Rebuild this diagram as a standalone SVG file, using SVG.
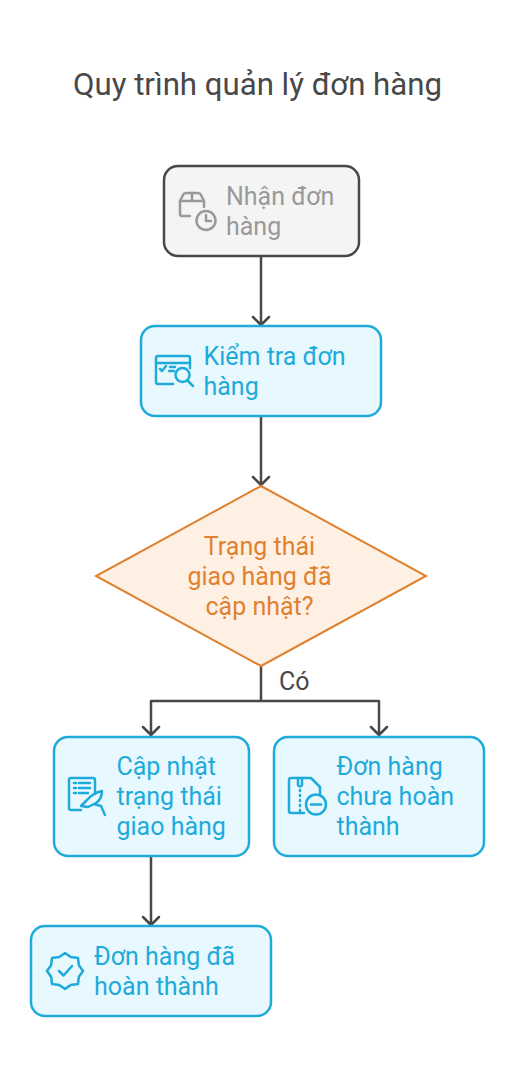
<svg xmlns="http://www.w3.org/2000/svg" width="515" height="1078" viewBox="0 0 515 1078">
<style>
text{font-family:Roboto,"Liberation Sans",sans-serif;font-size:25px}
.b{fill:#e8f8ff;stroke:#1eabda;stroke-width:2.5}
.bt{fill:#1eabda}
.i{fill:none;stroke:#1eabda;stroke-width:2.5;stroke-linecap:round;stroke-linejoin:round}
.g{fill:none;stroke:#999;stroke-width:2.5;stroke-linecap:round;stroke-linejoin:round}
.c{fill:none;stroke:#484848;stroke-width:2.500;stroke-linecap:round;stroke-linejoin:round}
</style>
<rect width="515" height="1078" fill="#fff"/>
<text id="title" x="257.500" y="95" text-anchor="middle" fill="#484848" style="font-size:31.200px">Quy trình quản lý đơn hàng</text>
<g id="connectors">
<path class="c" d="M261 257V325M253 317l8 8l8-8"/>
<path class="c" d="M261 416V485M253 477l8 8l8-8"/>
<path class="c" d="M261 666V701M261 701H151V735M143 727l8 8l8-8M261 701H379V735M371 727l8 8l8-8"/>
<path class="c" d="M151 857V925M143 917l8 8l8-8"/>
<text x="279" y="690" fill="#484848">Có</text>
</g>
<g id="n1">
<rect x="164" y="166" width="195" height="90" rx="14" fill="#f4f4f4" stroke="#484848" stroke-width="2.500"/>
<path class="g" d="M190 216H182Q180 216 180 214V201L183 195Q184 193 186 193H198Q200 193 201 195L204 201V207M180 201H204M192 193V201"/>
<circle class="g" cx="206" cy="220.500" r="9.500"/>
<path class="g" d="M206 215V221H211"/>
<text x="226" y="205" fill="#999">Nhận đơn</text>
<text x="226" y="235" fill="#999">hàng</text>
</g>
<g id="n2">
<rect class="b" x="141" y="326" width="240" height="90" rx="14"/>
<path class="i" d="M173 384H158Q156 384 156 382V358Q156 356 158 356H188Q190 356 190 358V368M156 363H190M160 369L162 371L166 366M170 367H175M169 371H174"/>
<circle class="i" cx="182.500" cy="375" r="7"/>
<path class="i" d="M187.500 380.500L193 386"/>
<text x="203.500" y="365" class="bt">Kiểm tra đơn</text>
<text x="203.500" y="395" class="bt">hàng</text>
</g>
<g id="n3">
<polygon points="261,486 426,576 261,666 96,576" fill="#fff0e4" stroke="#e0812f" stroke-width="2"/>
<g fill="#e0812f" text-anchor="middle">
<text x="259.500" y="555">Trạng thái</text>
<text x="259.500" y="585">giao hàng đã</text>
<text x="259.500" y="615">cập nhật?</text>
</g>
</g>
<g id="n4">
<rect class="b" x="54" y="737" width="195" height="119" rx="14"/>
<path class="i" d="M81 810H71Q69 810 69 808V780Q69 778 71 778H93Q95 778 95 780V794M74 783H76M79 783H90M74 788H76M79 788H90M74 793H76M79 793H88"/>
<path class="i" d="M81 806L87 800Q93 793 102 791Q102 799 96 803L88 807ZM94 804L101 806L105 815" fill="#1eabda" fill-opacity=".45"/>
<text x="116.500" y="775" class="bt">Cập nhật</text>
<text x="116.500" y="805" class="bt">trạng thái</text>
<text x="116.500" y="835" class="bt">giao hàng</text>
</g>
<g id="n5">
<rect class="b" x="274" y="737" width="210" height="119" rx="14"/>
<path class="i" d="M304 813H291Q289 813 289 811V780Q289 778 291 778H311L320 787V794"/>
<path class="i" d="M298 778V785Q300 788 302 785V778"/>
<path class="i" d="M300 790V791M300 795V796M300 800V801M300 805V806M300 810V811"/>
<circle class="i" cx="316" cy="804.500" r="10"/>
<path class="i" d="M311 804.500H321"/>
<text x="336.500" y="775" class="bt">Đơn hàng</text>
<text x="336.500" y="805" class="bt">chưa hoàn</text>
<text x="336.500" y="835" class="bt">thành</text>
</g>
<g id="n6">
<rect class="b" x="31" y="926" width="240" height="90" rx="14"/>
<path class="i" d="M65 953L70.700 957.100L78 958L78.900 965.300L83 971L78.900 976.700L78 984L70.700 984.900L65 989L59.300 984.900L52 984L51.100 976.700L47 971L51.100 965.300L52 958L59.300 957.100Z"/>
<path class="i" d="M59 971L63.500 975.500L72 966"/>
<text x="94" y="965" class="bt">Đơn hàng đã</text>
<text x="94" y="995" class="bt">hoàn thành</text>
</g>
</svg>
